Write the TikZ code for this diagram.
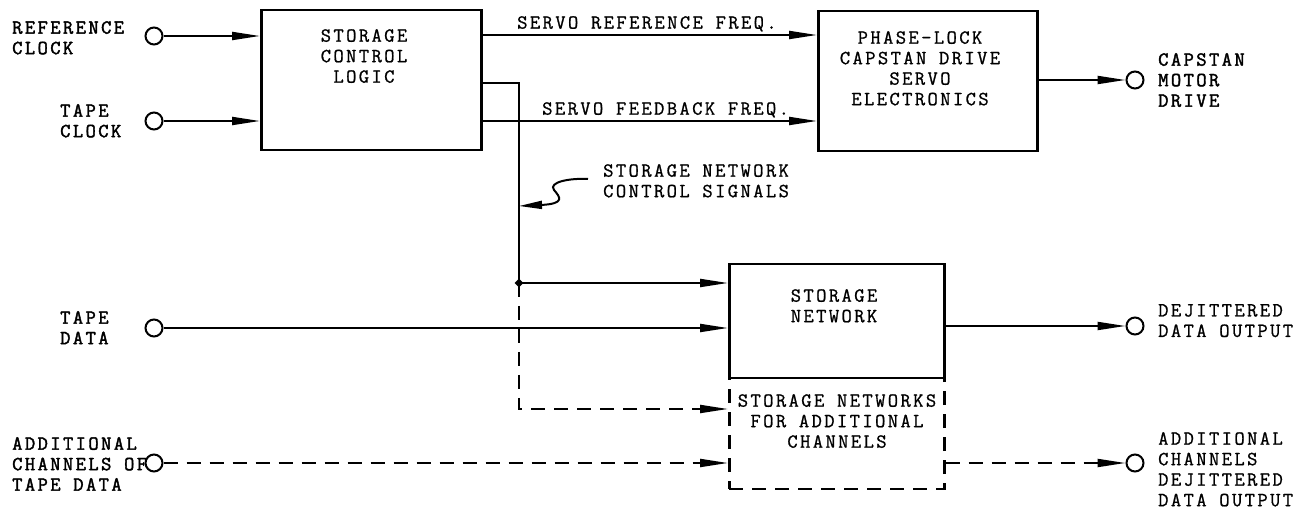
\documentclass[tikz,border=0pt]{standalone}
\usepackage{fontspec}
\usetikzlibrary{arrows.meta,calc,shapes.geometric}
\newfontfamily\tw{Latin Modern Mono}[LetterSpace=12,FakeBold=1]
\newfontfamily\twb{Latin Modern Mono}[LetterSpace=12,FakeBold=2]
\tikzset{
  sig/.style={line width=2pt},
  tip/.style={-{Triangle[length=28pt,width=8pt]}},
  dsh/.style={dash pattern=on 14pt off 9pt},
  box/.style={draw, line width=2.5pt, rectangle, inner sep=0pt, anchor=north west},
  term/.style={circle, draw, line width=2pt, minimum size=17pt, inner sep=0pt, fill=white},
  lbl/.style={inner sep=0pt, anchor=north west, align=left, font=\fontsize{20}{20.5}\selectfont\tw},
  lblb/.style={lbl, font=\fontsize{20}{20.5}\selectfont\twb},
  ctr/.style={inner sep=0pt, anchor=north, align=center, font=\fontsize{20}{20.5}\selectfont\tw},
}
\begin{document}
\begin{tikzpicture}[x=1pt,y=-1pt]
\useasboundingbox (0,0) rectangle (1310,510);

% blocks
\node[box, minimum width=220pt, minimum height=140pt] (scl) at (260,9) {};
\node[box, minimum width=219pt, minimum height=140pt] (pl) at (817,10) {};
\node[box, dsh, minimum width=215pt, minimum height=111pt] (snx) at (728,377) {};
\node[box, minimum width=215pt, minimum height=114pt] (sn) at (728,263) {};

% block texts
\node[ctr] (scltxt) at (364,29) {STORAGE\\CONTROL\\LOGIC};
\node[ctr] (pltxt) at (920,31) {PHASE-LOCK\\CAPSTAN DRIVE\\SERVO\\ELECTRONICS};
\node[ctr] (sntxt) at (834,289) {STORAGE\\NETWORK};
\node[ctr] (snxtxt) at (837,394) {STORAGE NETWORKS\\FOR ADDITIONAL\\CHANNELS};

% terminals
\node[term] (rc) at (154,36) {};
\node[term] (tc) at (154,121) {};
\node[term] (td) at (154,328) {};
\node[term] (ac) at (154,463) {};
\node[term] (cm) at (1135,80) {};
\node[term] (do) at (1135,326) {};
\node[term] (ado) at (1135,463) {};

% terminal labels
\node[lblb] (rclbl) at (12,21) {REFERENCE\\CLOCK};
\node[lblb] (tclbl) at (60,104) {TAPE\\CLOCK};
\node[lblb] (tdlbl) at (60,311) {TAPE\\DATA};
\node[lblb] (aclbl) at (12,437) {ADDITIONAL\\CHANNELS OF\\TAPE DATA};
\node[lblb] (cmlbl) at (1158,53) {CAPSTAN\\MOTOR\\DRIVE};
\node[lbl] (dolbl) at (1158,304) {DEJITTERED\\DATA OUTPUT};
\node[lbl] (adolbl) at (1158,432) {ADDITIONAL\\CHANNELS\\DEJITTERED\\DATA OUTPUT};

% line labels
\node[lbl] (srf) at (517,16) {SERVO REFERENCE FREQ.};
\node[lbl] (sff) at (542,102) {SERVO FEEDBACK FREQ.};
\node[lbl] (sncs) at (603,164) {STORAGE NETWORK\\CONTROL SIGNALS};

% inputs
\draw[sig,tip] (rc.east) -- (scl.west |- rc);
\draw[sig,tip] (tc.east) -- (scl.west |- tc);
\draw[sig,tip] (td.east) -- (sn.west |- td);
\draw[sig,dsh,tip] (ac.east) -- (snx.west |- ac);

% servo signals
\draw[sig,tip] (scl.east |- 0,35) -- (pl.west |- 0,35);
\draw[sig,tip] (scl.east |- 0,121) -- (pl.west |- 0,121);

% storage network control
\coordinate (bend) at (519,83);
\coordinate (j) at (519,283);
\coordinate (dbend) at (519,409);
\coordinate (tap) at (519,206);
\draw[sig] (scl.east |- bend) -- (bend) -- (j);
\draw[sig,tip] (j) -- (sn.west |- j);
\draw[sig,dsh,tip] (j) -- (dbend) -- (snx.west |- dbend);
\node[diamond, fill, inner sep=0pt, minimum size=9pt] (jdot) at (j) {};

% pointer from the label to the control line
\draw[sig,-{Triangle[length=23pt,width=8pt]}]
  (588,179) .. controls (570,178) and (548,182) .. (554,190)
  .. controls (560,197) and (566,204) .. (540,205) -- (tap);

% outputs
\draw[sig,tip] (pl.east |- cm) -- (cm.west);
\draw[sig,tip] (sn.east |- do) -- (do.west);
\draw[sig,dsh,tip] (snx.east |- ado) -- (ado.west);
\end{tikzpicture}
\end{document}
